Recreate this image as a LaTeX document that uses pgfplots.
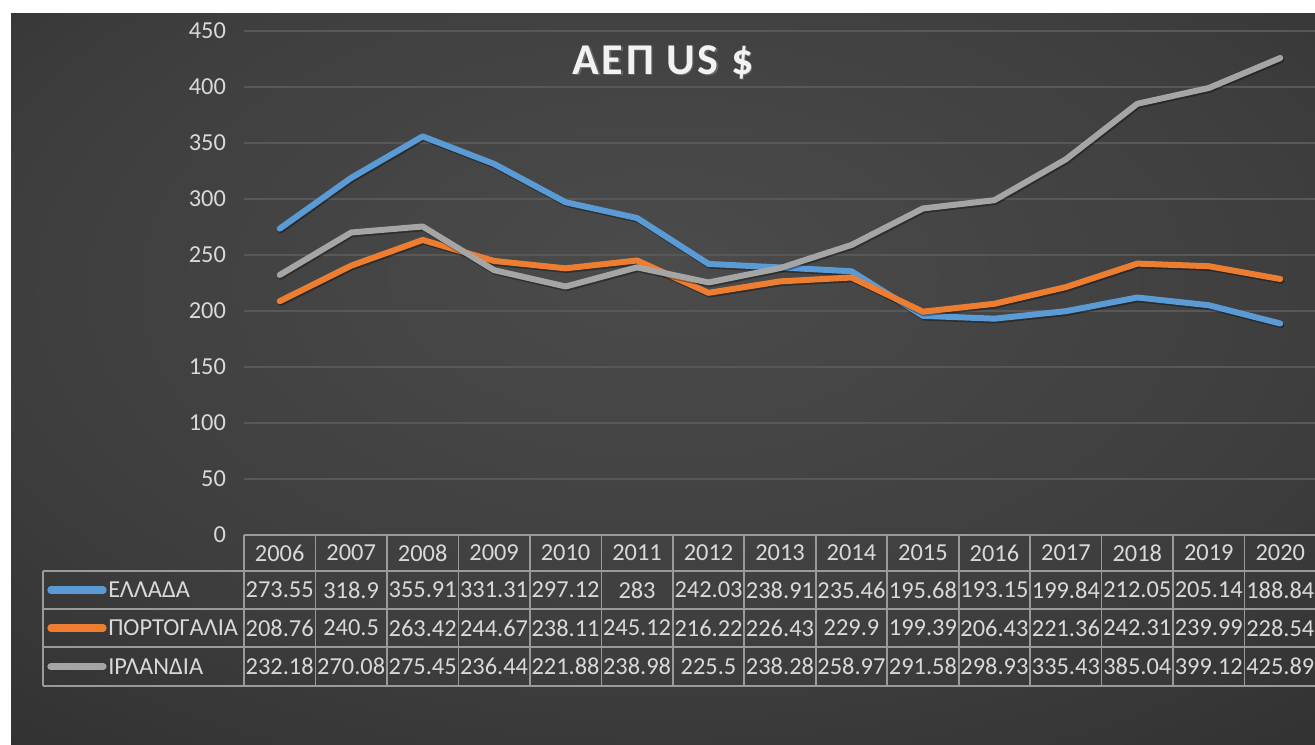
\documentclass[border=0pt]{standalone}
\usepackage{fontspec}
\setmainfont{Carlito}
\usepackage{pgfplots}
\pgfplotsset{compat=1.18}

\definecolor{bgin}{HTML}{4B4B4B}
\definecolor{bgmid}{HTML}{3E3E3E}
\definecolor{bgout}{HTML}{272727}
\definecolor{gridc}{HTML}{585858}
\definecolor{txt}{HTML}{D9D9D9}
\definecolor{tblc}{HTML}{9A9A9A}
\definecolor{grc}{HTML}{5B9BD5}
\definecolor{ptc}{HTML}{ED7D31}
\definecolor{iec}{HTML}{A5A5A5}

\pgfdeclareradialshading{bgshade}{\pgfpoint{0bp}{8bp}}{%
  color(0bp)=(bgin); color(25bp)=(bgmid); color(52bp)=(bgout); color(100bp)=(bgout)}

\newcommand{\tfont}{\fontsize{18.3}{20}\selectfont}

\pgfplotsset{series/.style={color=#1, line width=4.5pt, line join=round, line cap=round,
  preaction={draw=black, draw opacity=0.35, line width=4.5pt,
    transform canvas={xshift=0.8pt, yshift=-1.3pt}}}}

\begin{document}
\begin{tikzpicture}[x=0.75pt, y=0.75pt]
\useasboundingbox (0,0) rectangle (1315,744);
\clip (0,0) rectangle (1315,744);
\fill[white] (0,0) rectangle (1315,744);
\shade[shading=bgshade] (11,0) rectangle (1315,730);

\begin{axis}[
  at={(183pt,156.75pt)}, anchor=south west,
  scale only axis, width=804pt, height=378pt,
  xmin=2005.5, xmax=2020.5, ymin=0, ymax=450,
  ytick={0,50,...,450}, xtick=\empty,
  axis line style={draw=none}, major tick length=0pt,
  ymajorgrids, grid style={draw=gridc, line width=1pt},
  tick label style={font=\tfont, text=txt},
  yticklabel style={xshift=-10pt},
  /pgf/number format/assume math mode=true,
  clip=false,
]
\addplot[series=grc] coordinates {
 (2006,273.55)(2007,318.9)(2008,355.91)(2009,331.31)(2010,297.12)
 (2011,283)(2012,242.03)(2013,238.91)(2014,235.46)(2015,195.68)
 (2016,193.15)(2017,199.84)(2018,212.05)(2019,205.14)(2020,188.84)};
\addplot[series=ptc] coordinates {
 (2006,208.76)(2007,240.5)(2008,263.42)(2009,244.67)(2010,238.11)
 (2011,245.12)(2012,216.22)(2013,226.43)(2014,229.9)(2015,199.39)
 (2016,206.43)(2017,221.36)(2018,242.31)(2019,239.99)(2020,228.54)};
\addplot[series=iec] coordinates {
 (2006,232.18)(2007,270.08)(2008,275.45)(2009,236.44)(2010,221.88)
 (2011,238.98)(2012,225.5)(2013,238.28)(2014,258.97)(2015,291.58)
 (2016,298.93)(2017,335.43)(2018,385.04)(2019,399.12)(2020,425.89)};
\end{axis}

% title
\node[text=black!60, font=\fontsize{33}{35}\selectfont\bfseries\addfontfeature{LetterSpace=6}] at (664.5,680.5) {ΑΕΠ US \$};
\node[text=white!95!black, font=\fontsize{33}{35}\selectfont\bfseries\addfontfeature{LetterSpace=6}] at (663,682) {ΑΕΠ US \$};

% data table
\begin{scope}[tblc, line width=1.2pt]
\draw (244,209) -- (1320,209);
\foreach \yy in {173,135,97,58} \draw (43,\yy) -- (1320,\yy);
\draw (43,173) -- (43,58);
\foreach \i in {0,...,15} \draw (244+71.47*\i,209) -- (244+71.47*\i,58);
\end{scope}

\begin{scope}[every node/.style={font=\tfont, text=txt, inner sep=0pt}]
\foreach \v [count=\i from 0] in {2006,2007,2008,2009,2010,2011,2012,2013,2014,2015,2016,2017,2018,2019,2020}
  \node at (279.7+71.47*\i,191) {\v};
\foreach \v [count=\i from 0] in {273.55,318.9,355.91,331.31,297.12,283,242.03,238.91,235.46,195.68,193.15,199.84,212.05,205.14,188.84}
  \node at (279.7+71.47*\i,154) {\v};
\foreach \v [count=\i from 0] in {208.76,240.5,263.42,244.67,238.11,245.12,216.22,226.43,229.9,199.39,206.43,221.36,242.31,239.99,228.54}
  \node at (279.7+71.47*\i,116) {\v};
\foreach \v [count=\i from 0] in {232.18,270.08,275.45,236.44,221.88,238.98,225.5,238.28,258.97,291.58,298.93,335.43,385.04,399.12,425.89}
  \node at (279.7+71.47*\i,77.5) {\v};
\node[anchor=west] at (108,154) {ΕΛΛΑΔΑ};
\node[anchor=west] at (108,116) {ΠΟΡΤΟΓΑΛΙΑ};
\node[anchor=west] at (108,77.5) {ΙΡΛΑΝΔΙΑ};
\end{scope}
\draw[grc, line width=5.5pt, line cap=round] (51,154) -- (103,154);
\draw[ptc, line width=5.5pt, line cap=round] (51,116) -- (103,116);
\draw[iec, line width=5.5pt, line cap=round] (51,77.5) -- (103,77.5);
\end{tikzpicture}
\end{document}
